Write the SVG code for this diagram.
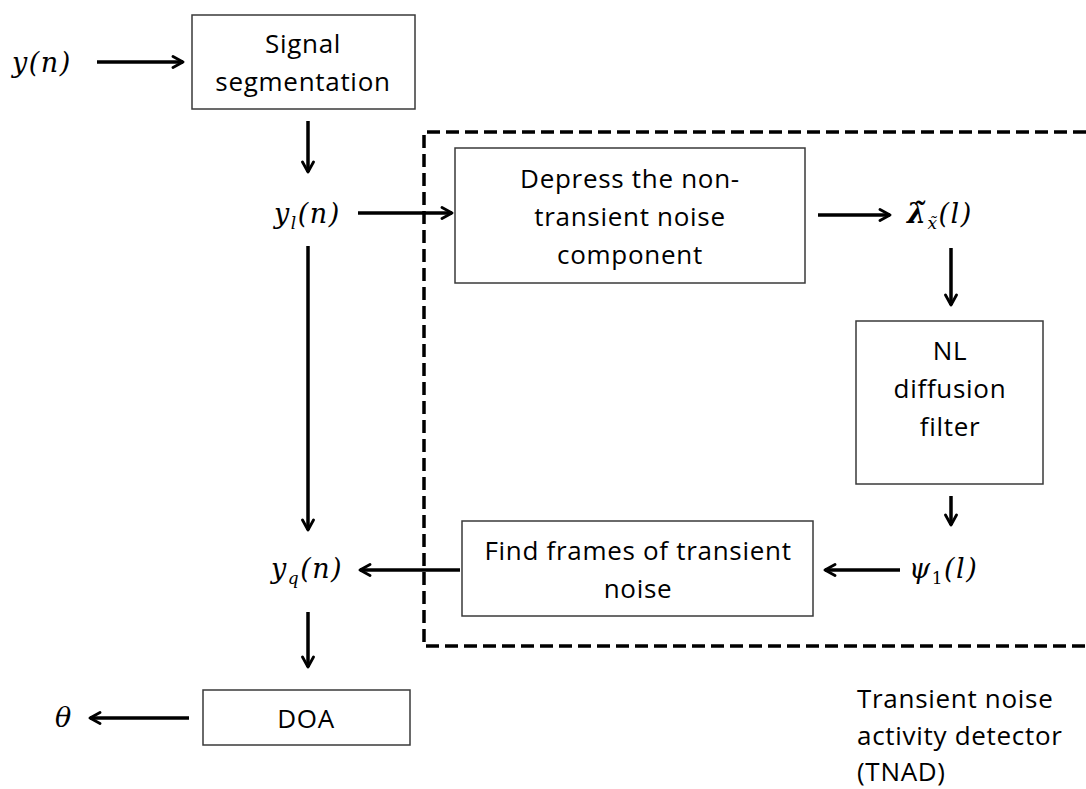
<svg xmlns="http://www.w3.org/2000/svg" width="1086" height="789" viewBox="0 0 1086 789">
<defs>
<marker id="ah" viewBox="0 0 14 14" refX="12" refY="7" markerWidth="14" markerHeight="14" markerUnits="userSpaceOnUse" orient="auto">
<path d="M2,1.5 L12,7 L2,12.5" fill="none" stroke="#000" stroke-width="2.8" stroke-linecap="round" stroke-linejoin="round"/>
</marker>
<style>
.box{fill:#fff;stroke:#3a3a3a;stroke-width:1.5}
.t{font-family:"Open Sans","Noto Sans",sans-serif;font-size:26px;letter-spacing:0.7px;fill:#000;text-anchor:middle}
.m{font-family:"DejaVu Serif","Liberation Serif",serif;font-style:italic;font-size:27px;letter-spacing:1.5px;fill:#000}
.s{font-size:17px}
.c line{stroke:#000;stroke-width:3.5;marker-end:url(#ah)}
</style>
</defs>
<rect width="1086" height="789" fill="#fff"/>
<g id="tnad">
<path d="M1086,132 H424 V646 H1086" fill="none" stroke="#000" stroke-width="3.5" stroke-dasharray="13,6"/>
<text class="t" x="857" y="708" style="text-anchor:start">Transient noise</text>
<text class="t" x="857" y="745" style="text-anchor:start">activity detector</text>
<text class="t" x="857" y="781" style="text-anchor:start">(TNAD)</text>
</g>
<g id="seg"><rect class="box" x="192" y="15" width="223" height="94"/>
<text class="t" x="303" y="53">Signal</text><text class="t" x="303" y="91">segmentation</text></g>
<g id="depress"><rect class="box" x="455" y="148" width="350" height="135"/>
<text class="t" x="630" y="188">Depress the non-</text><text class="t" x="630" y="226">transient noise</text><text class="t" x="630" y="264">component</text></g>
<g id="nl"><rect class="box" x="856" y="321" width="187" height="163"/>
<text class="t" x="950" y="360">NL</text><text class="t" x="950" y="398">diffusion</text><text class="t" x="950" y="436">filter</text></g>
<g id="find"><rect class="box" x="462" y="521" width="351" height="95"/>
<text class="t" x="638" y="560">Find frames of transient</text><text class="t" x="638" y="598">noise</text></g>
<g id="doa"><rect class="box" x="203" y="690" width="207" height="55"/>
<text class="t" x="306" y="728">DOA</text></g>
<g id="labels">
<text class="m" x="12" y="72">y(n)</text>
<text class="m" x="274" y="223">y<tspan class="s" dy="6">l</tspan><tspan dy="-6">(n)</tspan></text>
<text class="m" x="907" y="223"><tspan font-weight="bold">λ̃</tspan><tspan class="s" dy="6">x̃</tspan><tspan dy="-6">(l)</tspan></text>
<text class="m" x="271" y="578">y<tspan class="s" dy="6">q</tspan><tspan dy="-6">(n)</tspan></text>
<text class="m" x="909" y="578">ψ<tspan class="s" dy="6" style="font-style:normal">1</tspan><tspan dy="-6">(l)</tspan></text>
<text class="m" x="55" y="727">θ</text>
</g>
<g id="connectors" class="c">
<line x1="97" y1="62" x2="183" y2="62"/>
<line x1="308" y1="121" x2="308" y2="172"/>
<line x1="358" y1="213" x2="452" y2="213"/>
<line x1="818" y1="215" x2="890" y2="215"/>
<line x1="951" y1="248" x2="951" y2="305"/>
<line x1="951" y1="496" x2="951" y2="525"/>
<line x1="900" y1="570" x2="825" y2="570"/>
<line x1="460" y1="570" x2="360" y2="570"/>
<line x1="308" y1="246" x2="308" y2="530"/>
<line x1="308" y1="612" x2="308" y2="667"/>
<line x1="189" y1="718" x2="90" y2="718"/>
</g>
</svg>
